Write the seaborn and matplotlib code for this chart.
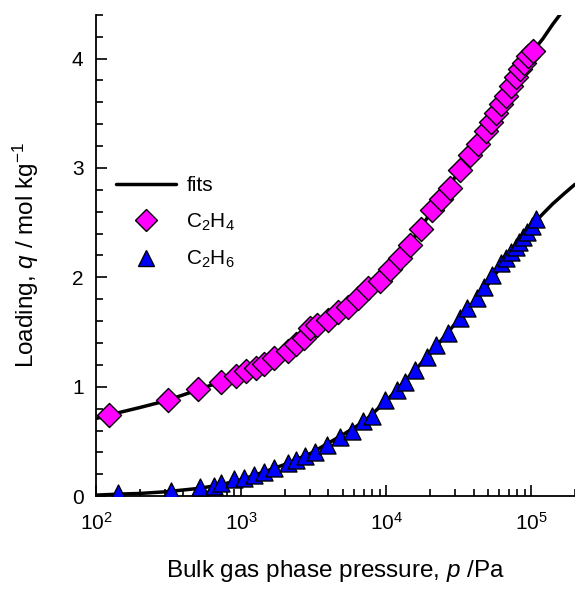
import matplotlib
matplotlib.use("Agg")
import matplotlib.pyplot as plt
import seaborn as sns
import pandas as pd
from matplotlib.ticker import LogLocator, MultipleLocator, LogFormatterSciNotation, NullFormatter
from matplotlib.lines import Line2D

# Experimental isotherm data (pressure in Pa, loading in mol/kg)
c2h4_p = [123, 313, 504, 725, 920, 1080, 1260, 1430, 1680, 2100, 2380, 2700, 2970, 3320,
          3950, 4630, 5430, 6350, 7450, 9010, 10560, 12360, 14700, 17500, 20800, 24000,
          27300, 32000, 37500, 42600, 49100, 53000, 57500, 62000, 67400, 73000, 78900,
          84000, 89700, 95000, 101900]
c2h4_q = [0.74, 0.88, 0.98, 1.04, 1.10, 1.14, 1.17, 1.21, 1.26, 1.33, 1.39, 1.45, 1.54, 1.56,
          1.61, 1.68, 1.73, 1.81, 1.90, 1.97, 2.08, 2.18, 2.30, 2.44, 2.62, 2.72,
          2.82, 2.98, 3.12, 3.22, 3.34, 3.42, 3.50, 3.58, 3.66, 3.75, 3.83,
          3.90, 3.96, 4.02, 4.07]

c2h6_p = [142, 328, 520, 649, 725, 891, 1045, 1222, 1432, 1679, 2095, 2400, 2740, 3210,
          3890, 4780, 5780, 6880, 7940, 9750, 11800, 13400, 15700, 18960, 22200, 26500,
          32000, 36300, 41900, 47500, 53900, 62200, 67000, 72900, 78000, 82800, 88000,
          94000, 101000, 108000]
c2h6_q = [0.03, 0.05, 0.08, 0.09, 0.12, 0.16, 0.17, 0.19, 0.22, 0.26, 0.30, 0.33, 0.37, 0.40,
          0.47, 0.54, 0.60, 0.69, 0.73, 0.88, 0.97, 1.04, 1.15, 1.27, 1.38, 1.49,
          1.63, 1.72, 1.81, 1.91, 2.02, 2.13, 2.18, 2.23, 2.28, 2.32, 2.37,
          2.41, 2.47, 2.53]

# Fitted isotherm curves
fit_p = [100, 150, 200, 300, 500, 700, 1000, 1500, 2000, 3000, 5000, 7000, 10000,
         15000, 20000, 30000, 50000, 70000, 100000, 120000, 140000, 170000, 200000]
fit_c2h4 = [0.71, 0.77, 0.81, 0.87, 0.97, 1.04, 1.12, 1.23, 1.32, 1.50, 1.70, 1.86, 2.05,
            2.33, 2.58, 2.92, 3.38, 3.72, 4.05, 4.18, 4.31, 4.46, 4.60]
fit_c2h6 = [0.01, 0.02, 0.025, 0.04, 0.07, 0.10, 0.15, 0.23, 0.29, 0.39, 0.56, 0.68, 0.87,
            1.12, 1.30, 1.58, 1.93, 2.20, 2.47, 2.58, 2.67, 2.77, 2.85]

sns.set_style("ticks")
plt.rcParams["font.family"] = ["Liberation Sans", "DejaVu Sans"]
plt.rcParams["mathtext.fontset"] = "custom"
plt.rcParams["mathtext.rm"] = "Liberation Sans"
plt.rcParams["mathtext.it"] = "Liberation Sans:italic"
plt.rcParams["mathtext.default"] = "regular"
plt.rcParams["text.color"] = "black"
plt.rcParams["axes.labelcolor"] = "black"

fig = plt.figure(figsize=(5.75, 5.9), dpi=100)
ax = fig.add_axes([0.167, 0.159, 0.833, 0.816])

fits = pd.DataFrame({"p": fit_p * 2, "q": fit_c2h4 + fit_c2h6,
                     "gas": ["C2H4"] * len(fit_p) + ["C2H6"] * len(fit_p)})
sns.lineplot(data=fits, x="p", y="q", units="gas", estimator=None, color="black",
             lw=2.5, ax=ax, zorder=2)

sns.scatterplot(x=c2h4_p, y=c2h4_q, marker="D", s=150, color="#ff00ff",
                edgecolor="black", linewidth=1.0, ax=ax, zorder=3)
sns.scatterplot(x=c2h6_p, y=c2h6_q, marker="^", s=150, color="#0000ff",
                edgecolor="black", linewidth=1.0, ax=ax, zorder=3)

ax.set_xscale("log")
ax.set_xlim(100, 2e5)
ax.set_ylim(0, 4.4)

ax.xaxis.set_major_locator(LogLocator(base=10, numticks=10))
ax.xaxis.set_minor_locator(LogLocator(base=10, subs=range(2, 10), numticks=10))
ax.xaxis.set_major_formatter(LogFormatterSciNotation())
ax.xaxis.set_minor_formatter(NullFormatter())
ax.yaxis.set_major_locator(MultipleLocator(1))
ax.yaxis.set_minor_locator(MultipleLocator(0.2))

ax.tick_params(which="both", direction="in", width=1.2, colors="black",
               labelcolor="black", labelsize=15)
ax.tick_params(which="major", length=8)
ax.tick_params(which="minor", length=5)
ax.tick_params(axis="x", which="both", pad=11)
ax.tick_params(axis="y", which="both", pad=9)

for side in ("top", "right"):
    ax.spines[side].set_visible(False)
for side in ("left", "bottom"):
    ax.spines[side].set_linewidth(1.3)
    ax.spines[side].set_color("black")

ax.set_xlabel("Bulk gas phase pressure, $\\mathit{p}$ /Pa", fontsize=17.5, labelpad=18)
ax.set_ylabel("Loading, $\\mathit{q}$ / mol kg$^{-1}$", fontsize=17.5, labelpad=22)

handles = [
    Line2D([], [], color="black", lw=2.5),
    Line2D([], [], marker="D", ls="none", markersize=11, markerfacecolor="#ff00ff",
           markeredgecolor="black"),
    Line2D([], [], marker="^", ls="none", markersize=12, markerfacecolor="#0000ff",
           markeredgecolor="black"),
]
labels = ["fits", "C$_2$H$_4$", "C$_2$H$_6$"]
ax.legend(handles, labels, loc="upper left", bbox_to_anchor=(0.019, 0.686),
          frameon=False, fontsize=15, handlelength=2.9, labelspacing=0.78,
          handletextpad=0.5, borderpad=0, labelcolor="black")

fig.savefig("out.png", dpi=100)
